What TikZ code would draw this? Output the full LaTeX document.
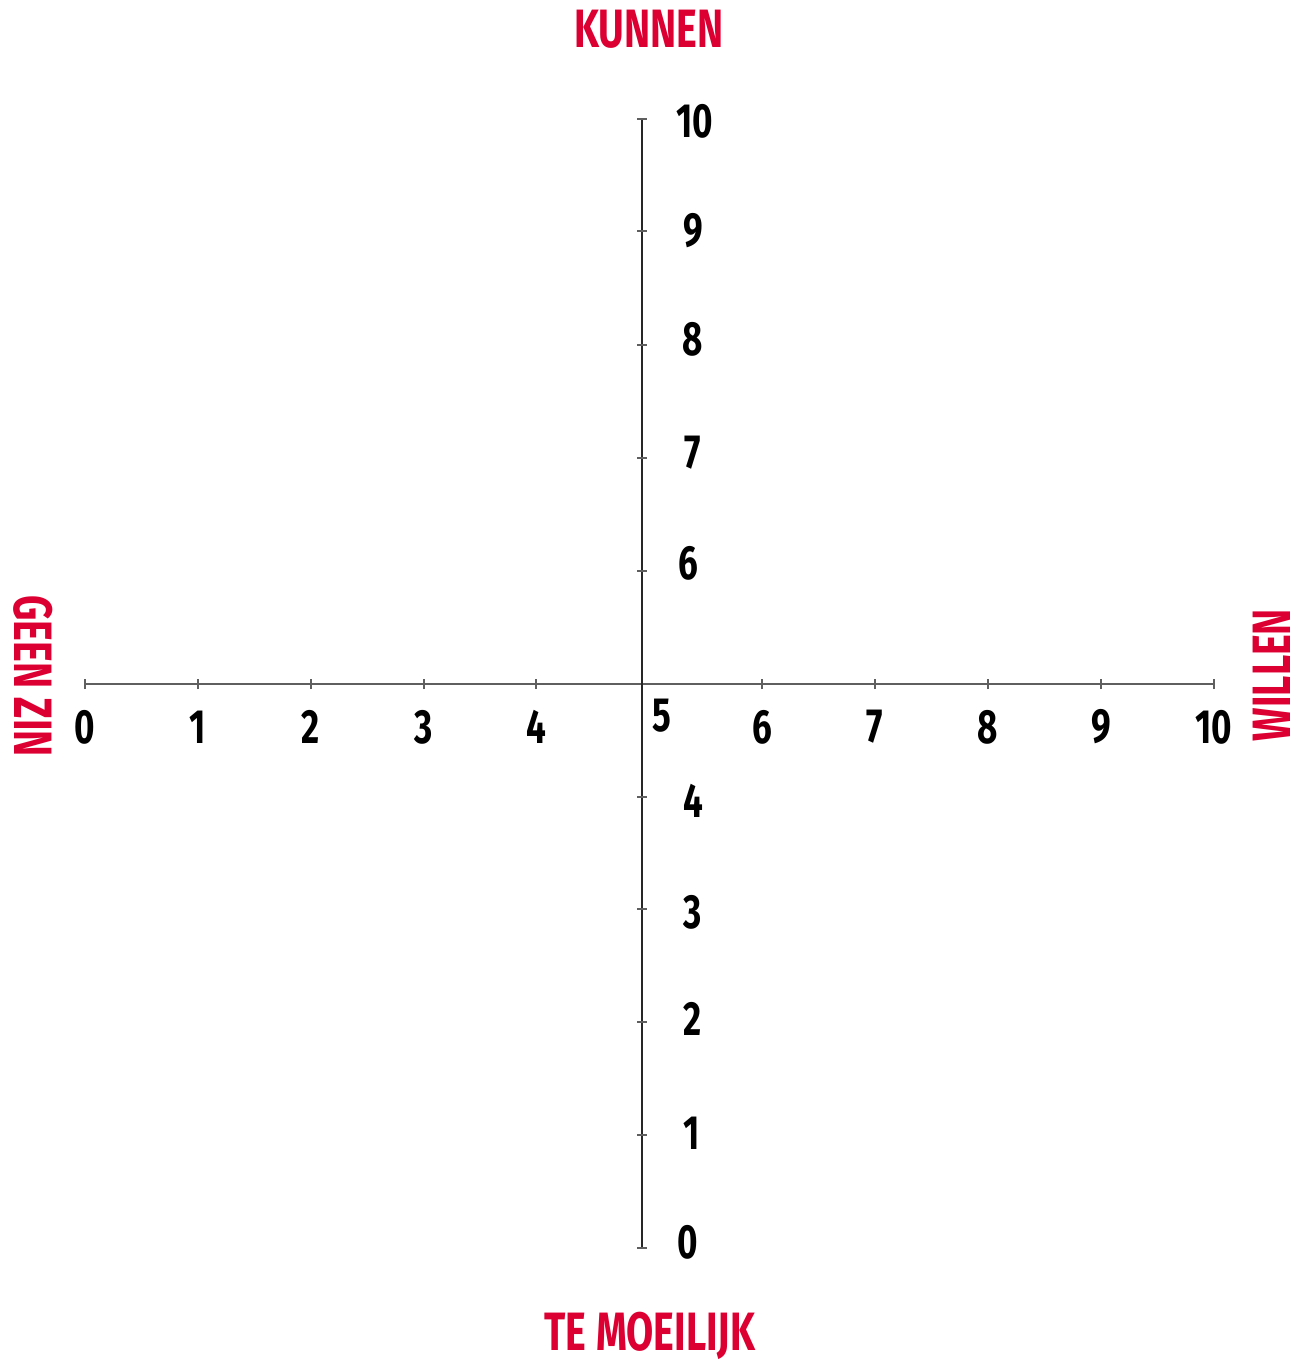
\documentclass[tikz,border=0pt]{standalone}
\usepackage{fontspec}
\setmainfont{Fira Sans}[FakeStretch=0.72]
\newfontfamily\numfont{Fira Sans}[FakeStretch=0.73,UprightFont=* Bold]
\definecolor{lblred}{RGB}{220,0,50}
\definecolor{axisgray}{RGB}{95,95,95}
\begin{document}
\begin{tikzpicture}[x=1pt,y=-1pt,
  axisline/.style={line width=1.6pt},
  tickmark/.style={line width=1.2pt,draw=axisgray},
  numlbl/.style={inner sep=0pt,font=\fontsize{48}{50}\numfont\selectfont,text=black},
  redlbl/.style={inner sep=0pt,font=\fontsize{54}{56}\numfont\selectfont,text=lblred}]
\useasboundingbox (0,0) rectangle (1303,1363);
% axes
\coordinate (hL) at (85,684);
\coordinate (hR) at (1214,684);
\coordinate (vT) at (642,119);
\coordinate (vB) at (642,1248);
\draw[axisline,draw=axisgray] (hL) -- (hR);
\draw[axisline,draw=black!85] (vT) -- (vB);
% horizontal ticks and labels
\foreach \i/\x in {0/85,1/198,2/311,3/424,4/536,6/762,7/875,8/988,9/1101,10/1214}{
  \coordinate (ht\i) at (\x,684);
  \draw[tickmark] ([yshift=-5]ht\i) -- ([yshift=5]ht\i);
  \node[numlbl] (hn\i) at (\x,727) {\i};
}
\node[numlbl] (hn5) at (662,716) {5};
% vertical ticks
\foreach \i/\y in {10/119,9/231,8/345,7/458,6/571,4/797,3/909,2/1022,1/1135,0/1248}{
  \coordinate (vt\i) at (642,\y);
  \draw[tickmark] ([xshift=-5]vt\i) -- ([xshift=5]vt\i);
}
% vertical labels
\foreach \i/\y/\lx in {10/121/695,9/231/693,8/339/693,7/453/693,6/563/688,4/801/693,3/912/693,2/1019/693,1/1133/692,0/1242/688}{
  \node[numlbl] (vn\i) at (\lx,\y) {\i};
}
% red labels
\node[redlbl] (top) at (649,29) {KUNNEN};
\node[redlbl] (bottom) at (650,1336) {TE MOEILIJK};
\node[redlbl,rotate=-90] (left) at (33,676) {GEEN ZIN};
\node[redlbl,rotate=90] (right) at (1272,675) {WILLEN};
\end{tikzpicture}
\end{document}
